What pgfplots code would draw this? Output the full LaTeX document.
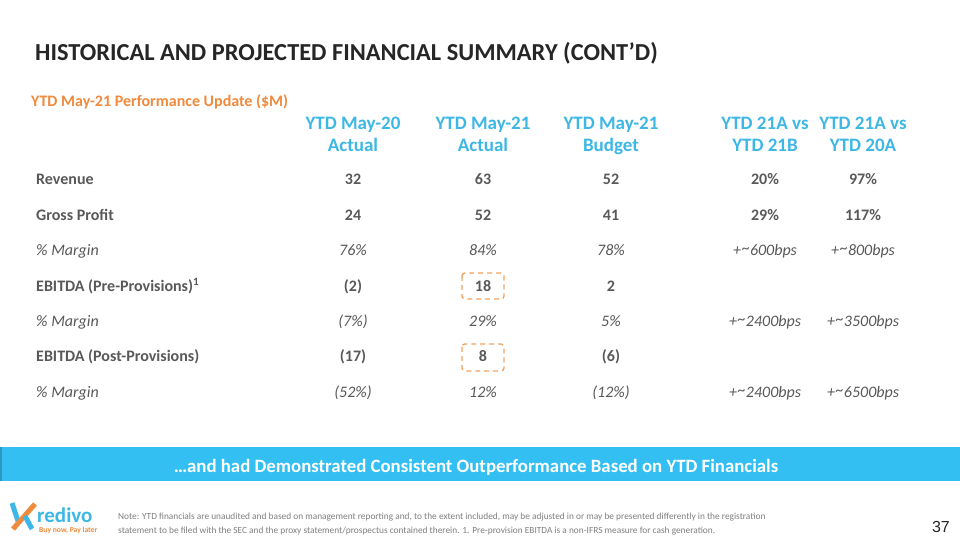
\documentclass[border=0pt]{standalone}
\usepackage{pgfplots}
\pgfplotsset{compat=1.18}
\usepackage{fontspec}
\setmainfont{Carlito}
\newfontfamily\arialf{Liberation Sans}
\definecolor{hblue}{HTML}{3DB7E6}
\definecolor{bannerblue}{HTML}{33BFF2}
\definecolor{sorange}{HTML}{F08A3C}
\definecolor{boxorange}{HTML}{F2A25E}
\definecolor{bodygray}{HTML}{595959}
\definecolor{titlegray}{HTML}{262626}
\definecolor{notegray}{HTML}{7F7F7F}
\newcommand{\fs}[1]{\fontsize{#1bp}{#1bp}\selectfont}
% \hd{x}{line1}{line2}
\newcommand{\hd}[3]{%
  \node[anchor=base,inner sep=0,text=hblue,font=\fs{19}\bfseries] at (axis cs:#1,130) {#2};
  \node[anchor=base,inner sep=0,text=hblue,font=\fs{19}\bfseries] at (axis cs:#1,152) {#3};}
% \rowb{y}{a}{b}{c}{d}{e}  bold row
\newcommand{\rowb}[6]{%
  \node[anchor=base,inner sep=0,text=bodygray,font=\fs{16}\bfseries] at (axis cs:353,#1) {#2};
  \node[anchor=base,inner sep=0,text=bodygray,font=\fs{16}\bfseries] at (axis cs:483,#1) {#3};
  \node[anchor=base,inner sep=0,text=bodygray,font=\fs{16}\bfseries] at (axis cs:611,#1) {#4};
  \node[anchor=base,inner sep=0,text=bodygray,font=\fs{16}\bfseries] at (axis cs:765,#1) {#5};
  \node[anchor=base,inner sep=0,text=bodygray,font=\fs{16}\bfseries] at (axis cs:863,#1) {#6};}
\newcommand{\rowi}[6]{%
  \node[anchor=base,inner sep=0,text=bodygray,font=\fs{16}\itshape] at (axis cs:353,#1) {#2};
  \node[anchor=base,inner sep=0,text=bodygray,font=\fs{16}\itshape] at (axis cs:483,#1) {#3};
  \node[anchor=base,inner sep=0,text=bodygray,font=\fs{16}\itshape] at (axis cs:611,#1) {#4};
  \node[anchor=base,inner sep=0,text=bodygray,font=\fs{16}\itshape] at (axis cs:765,#1) {#5};
  \node[anchor=base,inner sep=0,text=bodygray,font=\fs{16}\itshape] at (axis cs:863,#1) {#6};}
\newcommand{\lab}[3]{\node[anchor=base west,inner sep=0,text=bodygray,font=\fs{16}#3] at (axis cs:36,#1) {#2};}
\newcommand{\bps}[1]{+\kern1bp\raisebox{2.5bp}{\textasciitilde}#1bps}
\begin{document}
\begin{tikzpicture}
\begin{axis}[width=960bp,height=540bp,scale only axis,
  xmin=0,xmax=960,ymin=0,ymax=540,y dir=reverse,hide axis,clip=false]
% background
\fill[white] (axis cs:0,0) rectangle (axis cs:960,540);
% title
\node[anchor=base west,inner sep=0,text=titlegray,font=\fs{24.4}\bfseries] at (axis cs:35,61) {HISTORICAL AND PROJECTED FINANCIAL SUMMARY (CONT’D)};
\node[anchor=base west,inner sep=0,text=sorange,font=\fs{16}\bfseries] at (axis cs:31,107) {YTD May-21 Performance Update (\$M)};
% headers
\hd{353}{YTD May-20}{Actual}
\hd{483}{YTD May-21}{Actual}
\hd{611}{YTD May-21}{Budget}
\hd{765}{YTD 21A vs}{YTD 21B}
\hd{863}{YTD 21A vs}{YTD 20A}
% row labels
\lab{185}{Revenue}{\bfseries}
\lab{220.5}{Gross Profit}{\bfseries}
\lab{256}{\% Margin}{\itshape}
\lab{291.5}{EBITDA (Pre-Provisions)\textsuperscript{1}}{\bfseries}
\lab{327}{\% Margin}{\itshape}
\lab{362}{EBITDA (Post-Provisions)}{\bfseries}
\lab{397.5}{\% Margin}{\itshape}
% values
\rowb{185}{32}{63}{52}{20\%}{97\%}
\rowb{220.5}{24}{52}{41}{29\%}{117\%}
\rowi{256}{76\%}{84\%}{78\%}{\bps{600}}{\bps{800}}
\rowb{291.5}{(2)}{18}{2}{}{}
\rowi{327}{(7\%)}{29\%}{5\%}{\bps{2400}}{\bps{3500}}
\rowb{362}{(17)}{8}{(6)}{}{}
\rowi{397.5}{(52\%)}{12\%}{(12\%)}{\bps{2400}}{\bps{6500}}
% dashed boxes
\draw[boxorange,line width=1.4pt,dash pattern=on 5pt off 4pt,rounded corners=3pt] (axis cs:462,273) rectangle (axis cs:504,299);
\draw[boxorange,line width=1.4pt,dash pattern=on 5pt off 4pt,rounded corners=3pt] (axis cs:462,344) rectangle (axis cs:504,371);
% banner
\fill[bannerblue] (axis cs:0,447) rectangle (axis cs:960,481);
\fill[bannerblue!80!black] (axis cs:0,447) rectangle (axis cs:2,481);
\node[anchor=base,inner sep=0,text=white,font=\fs{18.8}\bfseries] at (axis cs:476,472) {…and had Demonstrated Consistent Outperformance Based on YTD Financials};
% footnote
\node[anchor=base west,inner sep=0,text=notegray,font=\fs{9.35}] at (axis cs:118,519) {Note: YTD financials are unaudited and based on management reporting and, to the extent included, may be adjusted in or may be presented differently in the registration};
\node[anchor=base west,inner sep=0,text=notegray,font=\fs{9.35}] at (axis cs:118,533) {statement to be filed with the SEC and the proxy statement/prospectus contained therein. 1. Pre-provision EBITDA is a non-IFRS measure for cash generation.};
% page number
\node[anchor=base east,inner sep=0,text=titlegray,font=\arialf\fs{16}] at (axis cs:950,532) {37};
% logo
\draw[hblue,line width=5pt] (axis cs:12,503) -- (axis cs:18,521);
\draw[sorange,line width=5pt] (axis cs:13,529) -- (axis cs:35,504);
\draw[hblue,line width=5pt] (axis cs:25,516) -- (axis cs:32,529);
\node[anchor=base west,inner sep=0,text=hblue,font=\fs{21}\bfseries] at (axis cs:37,522) {redivo};
\node[anchor=base west,inner sep=0,text=sorange,font=\fs{7.6}\bfseries] at (axis cs:39,532) {Buy now, Pay later};
\end{axis}
\end{tikzpicture}
\end{document}
